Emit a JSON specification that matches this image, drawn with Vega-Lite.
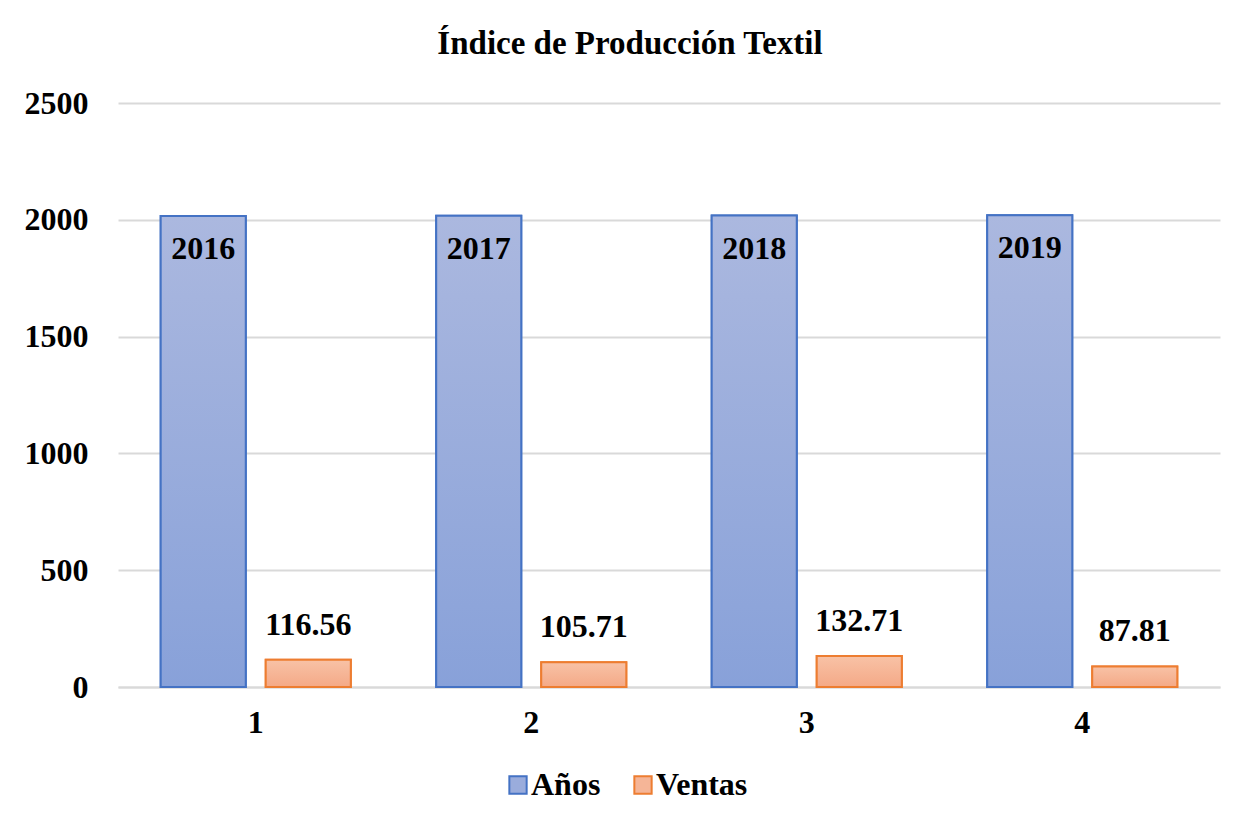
{
  "$schema": "https://vega.github.io/schema/vega-lite/v6.json",
  "width": 1102,
  "height": 584,
  "autosize": {"type": "none"},
  "padding": {"left": 118, "top": 103, "right": 16, "bottom": 134},
  "background": "white",
  "config": {"view": {"stroke": null}},
  "title": {
    "text": "Índice de Producción Textil",
    "font": "Liberation Serif",
    "fontSize": 33,
    "fontWeight": "bold",
    "color": "#000000",
    "anchor": "middle",
    "dx": -39,
    "offset": 26
  },
  "data": {
    "values": [
      {"grupo": "1", "serie": "Años", "valor": 2016, "etiqueta": "2016"},
      {"grupo": "1", "serie": "Ventas", "valor": 116.56, "etiqueta": "116.56"},
      {"grupo": "2", "serie": "Años", "valor": 2017, "etiqueta": "2017"},
      {"grupo": "2", "serie": "Ventas", "valor": 105.71, "etiqueta": "105.71"},
      {"grupo": "3", "serie": "Años", "valor": 2018, "etiqueta": "2018"},
      {"grupo": "3", "serie": "Ventas", "valor": 132.71, "etiqueta": "132.71"},
      {"grupo": "4", "serie": "Años", "valor": 2019, "etiqueta": "2019"},
      {"grupo": "4", "serie": "Ventas", "valor": 87.81, "etiqueta": "87.81"}
    ]
  },
  "encoding": {
    "x": {
      "field": "grupo",
      "type": "nominal",
      "title": null,
      "scale": {"paddingInner": 0.31, "paddingOuter": 0.155},
      "axis": {
        "labelAngle": 0,
        "labelFont": "Liberation Serif",
        "labelFontSize": 32,
        "labelFontWeight": "bold",
        "labelColor": "#000000",
        "labelPadding": 20,
        "ticks": false,
        "domainColor": "#d9d9d9",
        "domainWidth": 2
      }
    },
    "xOffset": {
      "field": "serie",
      "type": "nominal",
      "scale": {"paddingInner": 0.19, "paddingOuter": 0}
    },
    "y": {
      "field": "valor",
      "type": "quantitative",
      "title": null,
      "scale": {"domain": [0, 2500], "nice": false},
      "axis": {
        "values": [0, 500, 1000, 1500, 2000, 2500],
        "format": "d",
        "labelFont": "Liberation Serif",
        "labelFontSize": 32,
        "labelFontWeight": "bold",
        "labelColor": "#000000",
        "labelPadding": 30,
        "ticks": false,
        "domain": false,
        "gridColor": "#d9d9d9",
        "gridWidth": 2
      }
    }
  },
  "layer": [
    {
      "mark": {"type": "bar", "strokeWidth": 2},
      "encoding": {
        "fill": {
          "field": "serie",
          "type": "nominal",
          "scale": {"domain": ["Años", "Ventas"], "range": ["#9aacdc", "#f5b597"]},
          "legend": {
            "title": null,
            "orient": "none",
            "legendX": 384,
            "legendY": 666,
            "direction": "horizontal",
            "labelFont": "Liberation Serif",
            "labelFontSize": 32,
            "labelFontWeight": "bold",
            "labelColor": "#000000",
            "symbolType": "square",
            "symbolSize": 300,
            "symbolStrokeWidth": 2,
            "columnPadding": 26,
            "labelOffset": -3
          }
        },
        "stroke": {
          "field": "serie",
          "type": "nominal",
          "scale": {"domain": ["Años", "Ventas"], "range": ["#4472c4", "#ed7d31"]}
        }
      }
    },
    {
      "transform": [{"filter": "datum.serie === 'Años'"}],
      "mark": {
        "type": "bar",
        "stroke": "#4472c4",
        "strokeWidth": 2,
        "fill": {
          "gradient": "linear",
          "x1": 0, "y1": 0, "x2": 0, "y2": 1,
          "stops": [
            {"offset": 0, "color": "#abb8df"},
            {"offset": 1, "color": "#88a1d9"}
          ]
        }
      }
    },
    {
      "transform": [{"filter": "datum.serie === 'Ventas'"}],
      "mark": {
        "type": "bar",
        "stroke": "#ed7d31",
        "strokeWidth": 2,
        "fill": {
          "gradient": "linear",
          "x1": 0, "y1": 0, "x2": 0, "y2": 1,
          "stops": [
            {"offset": 0, "color": "#f8c2a6"},
            {"offset": 1, "color": "#f4a987"}
          ]
        }
      }
    },
    {
      "transform": [{"filter": "datum.serie === 'Años'"}],
      "mark": {
        "type": "text",
        "font": "Liberation Serif",
        "fontSize": 32,
        "fontWeight": "bold",
        "color": "#000000",
        "baseline": "middle",
        "dy": 33
      },
      "encoding": {"text": {"field": "etiqueta"}}
    },
    {
      "transform": [{"filter": "datum.serie === 'Ventas'"}],
      "mark": {
        "type": "text",
        "font": "Liberation Serif",
        "fontSize": 32,
        "fontWeight": "bold",
        "color": "#000000",
        "baseline": "middle",
        "dy": -35
      },
      "encoding": {"text": {"field": "etiqueta"}}
    }
  ]
}
